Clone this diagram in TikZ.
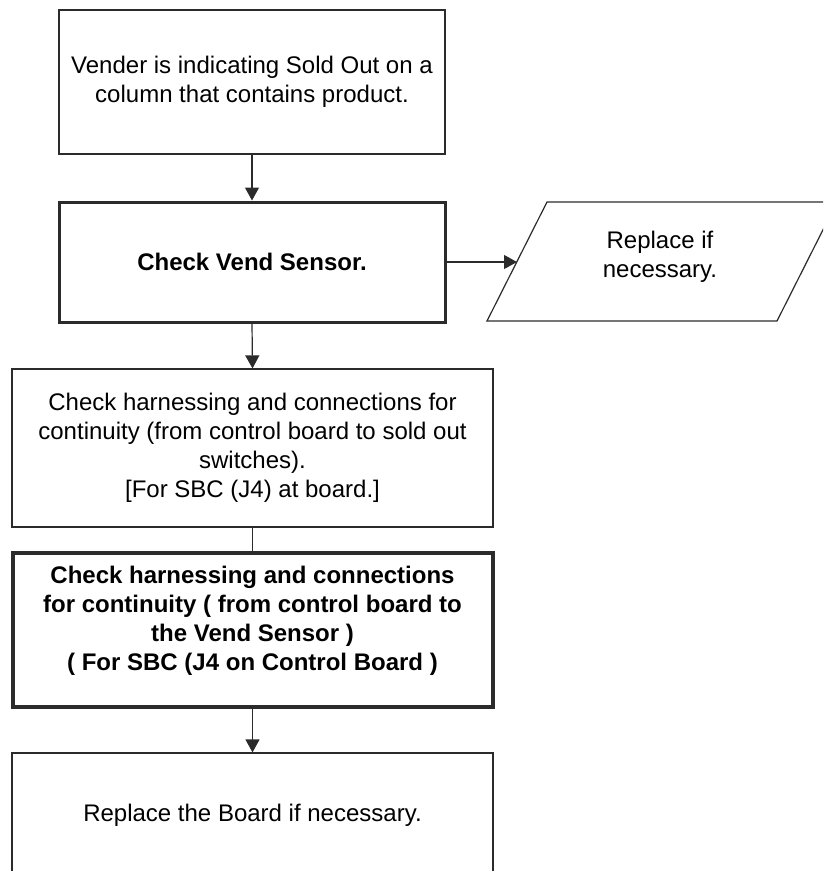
\documentclass[tikz,border=0pt]{standalone}
\usepackage{fontspec}
\setmainfont{Liberation Sans}
\usetikzlibrary{arrows.meta}
\definecolor{edge}{HTML}{2B2B2B}
\tikzset{
  txt/.style={font=\fontsize{24}{29}\selectfont, align=center, text=black},
  stepbox/.style={txt, draw=edge, line width=1.2pt, rectangle, inner sep=0pt},
  keybox/.style={stepbox, line width=3pt, font=\fontsize{24}{29}\selectfont\bfseries},
  heavybox/.style={stepbox, line width=4pt, font=\fontsize{24}{29}\selectfont\bfseries},
  flow/.style={draw=edge, line width=1.2pt, -{Triangle[length=13pt,width=14pt]}},
  link/.style={draw=edge, line width=1.2pt}
}
\begin{document}
\begin{tikzpicture}[x=1pt, y=-1pt]
  \useasboundingbox (0,0) rectangle (823,871);
  \clip (0,0) rectangle (823,871);

  % process boxes
  \node[stepbox, minimum width=386pt, minimum height=144pt] (b1) at (252,82)
    {Vender is indicating Sold Out on a\\column that contains product.};
  \node[keybox, minimum width=386pt, minimum height=120pt] (b2) at (252,262)
    {Check Vend Sensor.};
  \node[stepbox, minimum width=481pt, minimum height=158pt] (b3) at (252.5,448)
    {Check harnessing and connections for\\continuity (from control board to sold out\\switches).\\{[}For SBC (J4) at board.{]}};
  \node[heavybox, minimum width=480pt, minimum height=154pt, text depth=24pt] (b4) at (252.5,630)
    {Check harnessing and connections\\for continuity ( from control board to\\the Vend Sensor )\\( For SBC (J4 on Control Board )};
  \node[stepbox, minimum width=481pt, minimum height=124pt] (b5) at (252.5,815)
    {Replace the Board if necessary.};

  % input/output parallelogram
  \coordinate (pTL) at (547,202);
  \coordinate (pTR) at (837,202);
  \coordinate (pBR) at (777,321);
  \coordinate (pBL) at (487,321);
  \draw[link] (pTL) -- (pTR) -- (pBR) -- (pBL) -- cycle;
  \coordinate (pin) at (517,262);
  \node[txt] (p1) at (660,257) {Replace if\\necessary.};

  % connectors
  \draw[flow] (b1.south) -- (b2.north);
  \draw[flow] (b2.east) -- (pin);
  \draw[flow] (b2.south) -- (b3.north);
  \draw[link] (b3.south) -- (b4.north);
  \draw[flow] (b4.south) -- (b5.north);
\end{tikzpicture}
\end{document}
